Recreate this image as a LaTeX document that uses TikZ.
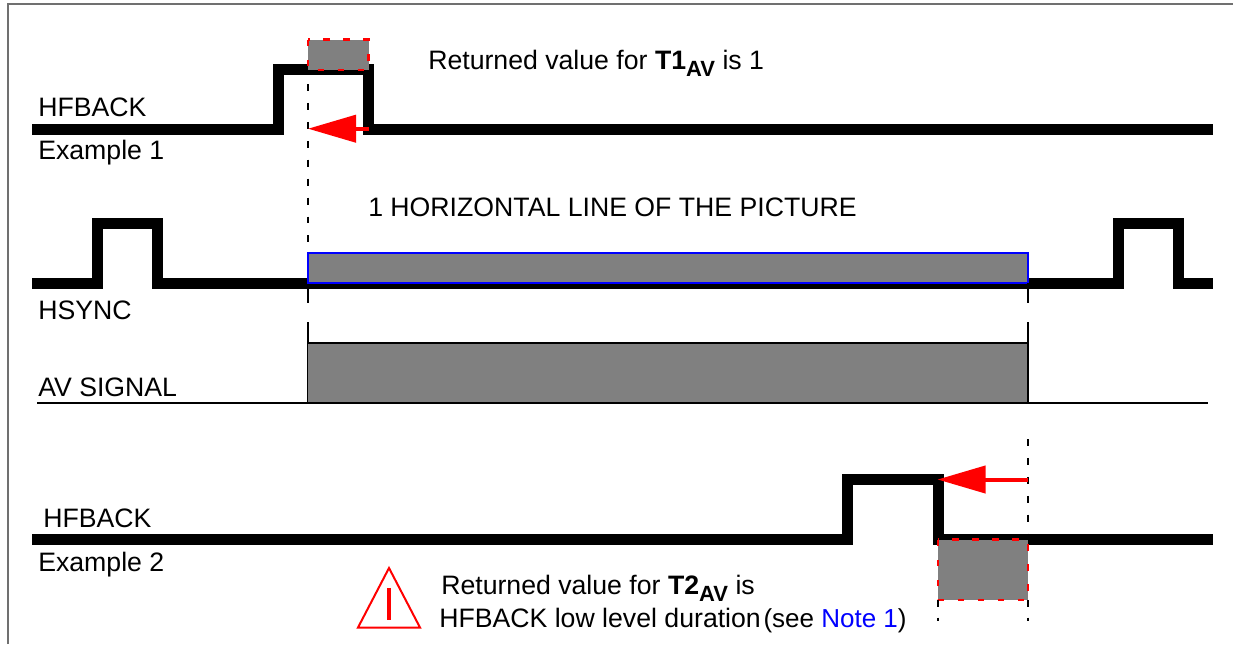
\documentclass[tikz,border=0pt]{standalone}
\usepackage{fontspec}
\usepackage{xcolor}
\setmainfont{Liberation Sans}
\usetikzlibrary{arrows.meta}
\definecolor{framegray}{HTML}{707070}
\definecolor{fillgray}{HTML}{808080}
\definecolor{notered}{HTML}{FF0000}
\definecolor{noteblue}{HTML}{0000FF}
\newcommand{\avsub}{\raisebox{-5.5pt}{\fontsize{16.5}{16.5}\selectfont\bfseries AV}}
\tikzset{
    wave/.style={line width=8.25pt, miter limit=10},
    label/.style={anchor=base west, inner sep=0pt, font=\fontsize{20}{24}\selectfont},
    guide/.style={black, line width=1.4pt, dash pattern=on 5.2pt off 9pt},
    edgeline/.style={black, line width=1.4pt},
    markbox/.style={fill=fillgray, draw=notered, line width=1.6pt, dash pattern=on 5pt off 10pt},
    backarrow/.style={notered, line width=3pt, -{Triangle[length=36pt,width=20.25pt]}}
}

\begin{document}
\begin{tikzpicture}[x=0.75pt, y=-0.75pt]
    \useasboundingbox (0,0) rectangle (1233,644);

    % Frame
    \draw[framegray, line width=1.3pt] (8,644) -- (8,4) -- (1233,4);

    % HFBACK example 1
    \draw[wave] (32,129.5) -- (278,129.5) -- (278,69.5) -- (368,69.5) -- (368,129.5) -- (1213,129.5);
    \node[label] (hfbackone) at (38,116) {HFBACK};
    \node[label] (exampleone) at (38,159.5) {Example 1};
    \draw[markbox] (308,39.5) rectangle (368.5,70);
    \node[label] (valueone) at (428,69.5) {Returned value for \textbf{T1}\avsub{} is 1};

    % Left guide
    \draw[guide] (308,84) -- (308,254);
    \draw[edgeline] (308,254) -- (308,303);
    \draw[edgeline] (308,322) -- (308,403);

    % Arrow example 1
    \coordinate (tailone) at (369,128.7);
    \coordinate (tipone) at (308,128.7);
    \draw[backarrow] (tailone) -- (tipone);

    % HSYNC
    \draw[wave] (32,283.5) -- (97.5,283.5) -- (97.5,223.5) -- (157.5,223.5) -- (157.5,283.5) -- (1118.5,283.5) -- (1118.5,223.5) -- (1178.5,223.5) -- (1178.5,283.5) -- (1213,283.5);
    \node[label] (hsync) at (38,319) {HSYNC};
    \node[label] (lineof) at (368,216) {1 HORIZONTAL LINE OF THE PICTURE};
    \draw[fill=fillgray, draw=noteblue, line width=1.4pt] (308,253) rectangle (1028,283);
    \draw[edgeline] (1028,283) -- (1028,303);

    % AV signal
    \node[label] (avsignal) at (38,396) {AV SIGNAL};
    \draw[fill=fillgray, draw=none] (308,343) rectangle (1028,403);
    \draw[edgeline] (308,343) -- (1028,343);
    \draw[edgeline] (37,403) -- (1208,403);
    \draw[edgeline] (1028,322) -- (1028,403);

    % HFBACK example 2
    \draw[wave] (32,539.5) -- (847.5,539.5) -- (847.5,479.5) -- (938.5,479.5) -- (938.5,539.5) -- (1213,539.5);
    \node[label] (hfbacktwo) at (43,527) {HFBACK};
    \node[label] (exampletwo) at (38,571.5) {Example 2};
    \draw[guide] (1028,439) -- (1028,540);
    \draw[markbox] (938,539.5) rectangle (1028,600);
    \coordinate (tailtwo) at (1028,479.5);
    \coordinate (tiptwo) at (937.5,479.5);
    \draw[backarrow] (tailtwo) -- (tiptwo);
    \draw[guide, dash pattern=on 5.2pt off 8pt] (938,600) -- (938,621);
    \draw[guide, dash pattern=on 5.2pt off 8pt] (1028,600) -- (1028,621);

    % Warning sign
    \draw[notered, line width=1.5pt, miter limit=10] (389,568) -- (420,627.5) -- (358,627.5) -- cycle;
    \draw[notered, line width=3pt] (389,588) -- (389,620);
    \node[label] (valuetwo) at (441,594) {Returned value for \textbf{T2}\avsub{} is};
    \node[label] (lowlevel) at (439,627) {HFBACK low level duration\hspace{2pt}{\fontsize{19.5}{24}\selectfont (see \textcolor{noteblue}{Note 1})}};
\end{tikzpicture}
\end{document}
